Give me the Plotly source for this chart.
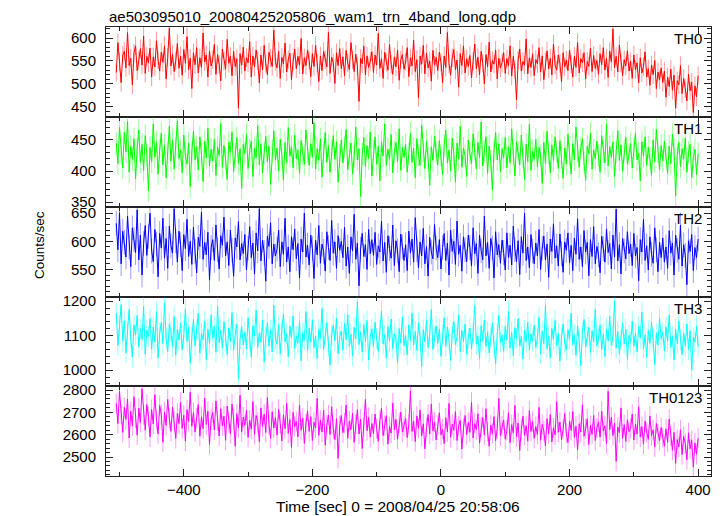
import plotly.graph_objects as go
from plotly.subplots import make_subplots

T_START = -505
T_STEP = 2.5

th0 = [525, 590, 548, 503, 562, 571, 535, 612, 540, 556, 498, 567, 583, 529, 551, 577, 541, 604, 523, 560,
       546, 578, 515, 559, 537, 594, 552, 528, 569, 547, 583, 511, 558, 622, 539, 565, 527, 550, 588, 534,
       561, 519, 575, 545, 603, 531, 556, 490, 568, 542, 579, 524, 557, 536, 611, 548, 563, 515, 572, 539,
       553, 586, 521, 564, 543, 507, 576, 549, 532, 597, 545, 560, 518, 571, 538, 555, 447, 566, 541, 580,
       528, 557, 546, 592, 515, 561, 537, 574, 550, 502, 563, 531, 584, 544, 520, 569, 556, 538, 617, 549,
       535, 571, 512, 558, 544, 589, 526, 553, 567, 509, 548, 576, 533, 560, 541, 599, 522, 557, 540, 574,
       551, 516, 566, 538, 584, 545, 505, 561, 529, 571, 553, 537, 612, 523, 558, 546, 501, 568, 540, 577,
       533, 559, 518, 573, 546, 531, 590, 552, 527, 565, 539, 462, 556, 544, 582, 520, 561, 536, 549, 570,
       525, 563, 541, 610, 534, 555, 512, 569, 547, 530, 586, 543, 521, 559, 537, 574, 508, 552, 564, 532,
       548, 579, 516, 557, 539, 595, 527, 553, 470, 561, 543, 584, 522, 567, 535, 550, 506, 573, 541, 558,
       529, 569, 547, 503, 561, 536, 612, 544, 519, 557, 575, 531, 552, 493, 566, 540, 583, 524, 555, 538,
       562, 513, 549, 587, 533, 558, 520, 571, 545, 500, 564, 537, 591, 526, 551, 543, 574, 511, 556, 535,
       547, 568, 523, 555, 539, 583, 517, 560, 531, 465, 552, 576, 528, 549, 541, 598, 522, 557, 536, 566,
       518, 553, 544, 579, 526, 561, 509, 548, 572, 533, 556, 520, 587, 541, 530, 563, 545, 505, 568, 537,
       552, 529, 574, 543, 515, 560, 536, 590, 524, 555, 546, 568, 511, 549, 538, 578, 527, 562, 534, 551,
       521, 566, 542, 579, 530, 556, 514, 571, 548, 620, 535, 560, 526, 585, 545, 518, 553, 539, 572, 528,
       549, 512, 563, 531, 546, 502, 557, 524, 538, 570, 515, 533, 497, 541, 520, 551, 490, 526, 509, 535,
       503, 528, 471, 515, 494, 532, 486, 519, 447, 507, 498, 540, 479, 512, 490, 463, 521, 485, 504, 438,
       496, 472, 518]

th1 = [445, 412, 470, 428, 405, 462, 431, 480, 398, 440, 419, 452, 387, 436, 466, 414, 443, 401, 457, 426,
       368, 438, 415, 476, 422, 447, 395, 433, 461, 410, 442, 389, 429, 472, 416, 450, 403, 437, 481, 420,
       434, 397, 458, 423, 411, 445, 375, 430, 464, 418, 439, 402, 455, 427, 383, 448, 421, 469, 408, 435,
       416, 451, 393, 438, 425, 477, 406, 441, 419, 386, 446, 430, 463, 399, 427, 454, 412, 436, 372, 443,
       428, 459, 404, 433, 448, 391, 437, 421, 473, 410, 444, 397, 429, 456, 415, 440, 378, 432, 465, 418,
       437, 400, 451, 426, 385, 446, 413, 470, 424, 439, 405, 458, 420, 434, 396, 449, 427, 411, 466, 431,
       409, 444, 422, 478, 403, 436, 417, 452, 390, 429, 462, 414, 441, 398, 433, 457, 419, 447, 382, 425,
       450, 413, 438, 467, 402, 430, 445, 395, 423, 471, 418, 436, 359, 427, 454, 407, 441, 420, 463, 392,
       432, 455, 411, 440, 384, 447, 424, 476, 409, 435, 419, 459, 397, 431, 446, 415, 468, 401, 438, 422,
       443, 398, 428, 461, 414, 437, 389, 452, 426, 409, 474, 432, 404, 448, 420, 377, 439, 417, 456, 430,
       410, 449, 425, 394, 441, 466, 413, 434, 400, 453, 427, 382, 445, 419, 472, 406, 437, 424, 391, 450,
       428, 412, 460, 435, 403, 446, 421, 479, 408, 431, 455, 396, 440, 416, 369, 433, 462, 418, 444, 399,
       436, 421, 454, 405, 439, 413, 468, 427, 392, 447, 430, 410, 458, 423, 386, 443, 415, 475, 401, 432,
       419, 451, 407, 438, 425, 380, 446, 412, 464, 429, 397, 442, 417, 455, 431, 404, 449, 422, 388, 437,
       411, 459, 426, 395, 444, 418, 471, 432, 406, 437, 452, 414, 385, 440, 428, 461, 403, 434, 420, 448,
       425, 398, 457, 431, 413, 476, 408, 439, 422, 447, 391, 430, 465, 417, 442, 400, 433, 454, 411, 427,
       444, 405, 436, 461, 418, 429, 384, 447, 424, 455, 409, 438, 420, 393, 450, 415, 467, 430, 402, 441,
       416, 448, 427, 396, 440, 412, 459, 433, 360, 425, 446, 407, 436, 419, 453, 398, 430, 443, 389, 422,
       435, 394, 428]

th2 = [632, 585, 651, 560, 618, 598, 572, 645, 590, 555, 624, 603, 580, 656, 567, 611, 540, 596, 628, 575,
       609, 650, 583, 564, 621, 595, 537, 614, 588, 641, 570, 605, 552, 627, 592, 579, 658, 601, 563, 618,
       594, 548, 612, 587, 639, 573, 600, 559, 625, 582, 544, 607, 591, 652, 568, 598, 576, 616, 531, 589,
       603, 566, 629, 585, 551, 610, 593, 643, 574, 599, 557, 620, 584, 538, 606, 590, 635, 567, 596, 578,
       612, 549, 588, 626, 571, 597, 542, 615, 583, 658, 565, 602, 580, 529, 609, 591, 633, 560, 595, 574,
       586, 620, 555, 599, 577, 641, 563, 590, 546, 608, 585, 622, 569, 596, 535, 604, 581, 650, 572, 593,
       558, 611, 587, 534, 602, 576, 628, 561, 595, 582, 547, 617, 589, 566, 637, 579, 599, 552, 610, 584,
       600, 571, 625, 556, 590, 543, 608, 583, 648, 568, 597, 521, 586, 614, 573, 594, 550, 621, 578, 603,
       575, 616, 559, 592, 581, 636, 565, 598, 545, 610, 587, 570, 629, 557, 601, 583, 546, 613, 590, 566,
       594, 548, 618, 579, 604, 563, 642, 585, 553, 599, 574, 623, 560, 591, 538, 607, 581, 569, 630, 588,
       571, 603, 551, 589, 614, 566, 597, 540, 620, 582, 600, 559, 636, 577, 593, 547, 608, 585, 564, 611,
       589, 556, 624, 578, 596, 543, 611, 583, 567, 645, 574, 598, 552, 605, 588, 535, 617, 576, 594, 561,
       602, 580, 549, 615, 571, 593, 558, 627, 585, 564, 601, 541, 608, 579, 650, 566, 590, 553, 612, 583,
       560, 597, 574, 621, 550, 588, 609, 567, 595, 536, 604, 582, 631, 570, 592, 556, 613, 578, 545, 599,
       584, 615, 562, 593, 548, 606, 577, 640, 568, 590, 555, 619, 581, 598, 539, 603, 573, 626, 560, 591,
       576, 544, 609, 587, 563, 622, 580, 596, 551, 611, 572, 657, 565, 594, 542, 605, 583, 569, 617, 578,
       595, 557, 614, 574, 589, 530, 603, 581, 639, 566, 592, 549, 608, 577, 561, 624, 585, 546, 598, 571,
       606, 563, 590, 552, 619, 579, 597, 540, 611, 584, 568, 629, 556, 594, 575, 523, 601, 582, 612, 548,
       589, 571, 604]

th3 = [1165, 1072, 1128, 1190, 1085, 1143, 1050, 1112, 1176, 1094, 1038, 1131, 1102, 1158, 1067, 1120, 1089, 1184, 1046, 1115,
       1098, 1149, 1061, 1125, 1081, 1170, 1035, 1106, 1138, 1077, 1195, 1092, 1054, 1133, 1110, 1068, 1155, 1043, 1118, 1087,
       1136, 1059, 1101, 1178, 1083, 1124, 1020, 1095, 1147, 1071, 1113, 1164, 1049, 1107, 1088, 1142, 1030, 1119, 1076, 1160,
       1093, 1128, 1052, 1185, 1079, 1116, 1064, 1140, 1097, 1045, 1122, 1084, 1167, 1058, 1103, 1134, 975, 1090, 1126, 1073,
       1111, 1062, 1152, 1086, 1037, 1129, 1099, 1174, 1066, 1108, 1081, 1145, 1024, 1096, 1137, 1070, 1117, 1053, 1188, 1091,
       1075, 1132, 1048, 1114, 1163, 1082, 1105, 1039, 1127, 1094, 1157, 1063, 1100, 1078, 1141, 1027, 1109, 1087, 1170, 1056,
       1121, 1080, 1146, 1065, 1099, 1033, 1118, 1092, 1179, 1060, 1106, 1138, 1071, 1015, 1102, 1130, 1085, 1150, 1047, 1097,
       1113, 1058, 1135, 1088, 1161, 1069, 1104, 1041, 1124, 1090, 1198, 1074, 1110, 1052, 1132, 1083, 1144, 1029, 1098, 1119,
       1067, 1139, 1091, 1055, 1115, 1172, 1076, 1103, 1036, 1126, 1084, 1148, 1062, 1107, 1093, 1021, 1120, 1079, 1154, 1071,
       1100, 1044, 1131, 1086, 1166, 1073, 1112, 1057, 1137, 1095, 1010, 1117, 1082, 1143, 1065, 1104, 1176, 1060, 1096, 1128,
       1078, 1119, 1040, 1102, 1152, 1069, 1125, 1089, 1028, 1108, 1141, 1074, 1097, 1160, 1054, 1115, 1083, 1133, 1046, 1093,
       1122, 1061, 1106, 1187, 1075, 1099, 1034, 1129, 1085, 1145, 1068, 1111, 1050, 1094, 1136, 1072, 1018, 1104, 1158, 1080,
       1101, 1055, 1127, 1087, 1171, 1064, 1110, 1042, 1123, 1091, 1149, 1070, 1098, 1032, 1116, 1081, 1139, 1059, 1105, 1084,
       1130, 1066, 1092, 1153, 1048, 1113, 1077, 1187, 1062, 1100, 1035, 1121, 1088, 1144, 1071, 1107, 1026, 1095, 1134, 1079,
       1058, 1117, 1090, 1165, 1074, 1103, 1043, 1128, 1086, 1013, 1109, 1147, 1067, 1097, 1124, 1052, 1114, 1082, 1176, 1070,
       1093, 1131, 1060, 1105, 1039, 1120, 1085, 1156, 1072, 1099, 1201, 1064, 1112, 1047, 1090, 1137, 1076, 1118, 1031, 1101,
       1080, 1142, 1069, 1108, 1053, 1126, 1094, 1168, 1063, 1102, 1037, 1115, 1078, 1139, 1087, 1016, 1106, 1073, 1150, 1091,
       1110, 1056, 1125, 1084, 1160, 1066, 1098, 1029, 1119, 1077, 1143, 1089, 1045, 1107, 1071, 1134, 1060, 1114, 1000, 1095,
       1081, 1127, 1068]

th0123 = [2740, 2650, 2795, 2690, 2610, 2722, 2668, 2760, 2585, 2705, 2640, 2770, 2675, 2598, 2718, 2655, 2806, 2690, 2620, 2735,
          2682, 2590, 2713, 2648, 2779, 2665, 2604, 2730, 2690, 2566, 2701, 2642, 2758, 2673, 2615, 2724, 2660, 2583, 2695, 2650,
          2745, 2628, 2687, 2571, 2712, 2659, 2790, 2638, 2699, 2612, 2674, 2735, 2593, 2680, 2627, 2764, 2646, 2705, 2557, 2668,
          2699, 2621, 2751, 2662, 2594, 2716, 2640, 2683, 2575, 2728, 2654, 2605, 2737, 2670, 2548, 2694, 2631, 2776, 2613, 2679,
          2642, 2710, 2588, 2664, 2625, 2748, 2601, 2686, 2655, 2569, 2720, 2637, 2692, 2610, 2767, 2645, 2583, 2703, 2630, 2676,
          2598, 2714, 2651, 2572, 2689, 2627, 2741, 2606, 2668, 2543, 2700, 2636, 2659, 2590, 2733, 2620, 2675, 2561, 2648, 2707,
          2615, 2681, 2574, 2656, 2630, 2762, 2597, 2665, 2612, 2709, 2553, 2643, 2688, 2601, 2725, 2626, 2578, 2672, 2494, 2640,
          2686, 2609, 2652, 2733, 2584, 2661, 2622, 2697, 2566, 2645, 2712, 2603, 2670, 2538, 2634, 2758, 2618, 2677, 2589, 2650,
          2605, 2692, 2627, 2570, 2663, 2718, 2596, 2641, 2685, 2558, 2636, 2607, 2742, 2621, 2669, 2580, 2654, 2701, 2612, 2638,
          2673, 2587, 2646, 2795, 2615, 2660, 2569, 2684, 2628, 2711, 2594, 2649, 2537, 2632, 2690, 2603, 2738, 2617, 2657, 2576,
          2642, 2698, 2599, 2625, 2560, 2676, 2613, 2740, 2589, 2647, 2619, 2703, 2574, 2639, 2664, 2536, 2629, 2686, 2600, 2655,
          2611, 2745, 2585, 2650, 2622, 2694, 2562, 2634, 2677, 2598, 2716, 2615, 2548, 2643, 2605, 2681, 2573, 2627, 2762, 2595,
          2638, 2666, 2580, 2620, 2699, 2564, 2645, 2608, 2731, 2590, 2652, 2529, 2624, 2683, 2597, 2640, 2571, 2708, 2614, 2659,
          2583, 2636, 2601, 2722, 2575, 2646, 2617, 2550, 2672, 2604, 2690, 2568, 2631, 2599, 2748, 2611, 2656, 2578, 2625, 2695,
          2606, 2565, 2660, 2619, 2704, 2587, 2638, 2532, 2649, 2612, 2734, 2593, 2627, 2671, 2556, 2641, 2602, 2686, 2574, 2630,
          2658, 2589, 2705, 2616, 2640, 2561, 2794, 2622, 2678, 2596, 2652, 2481, 2634, 2609, 2720, 2584, 2645, 2570, 2667, 2613,
          2628, 2692, 2576, 2647, 2603, 2725, 2590, 2636, 2558, 2661, 2610, 2579, 2684, 2595, 2622, 2545, 2650, 2604, 2573, 2632,
          2587, 2548, 2626, 2566, 2669, 2595, 2530, 2610, 2472, 2578, 2545, 2622, 2511, 2592, 2560, 2488, 2608, 2537, 2575, 2455,
          2563, 2512, 2584]

series = [th0, th1, th2, th3, th0123]
names = ["TH0", "TH1", "TH2", "TH3", "TH0123"]
errors = [20, 18, 22, 30, 45]
colors = ["#ff0000", "#00ff00", "#0000ff", "#00ffff", "#ff00ff"]
err_colors = ["rgba(255,0,0,0.4)", "rgba(0,255,0,0.4)", "rgba(0,0,255,0.4)",
              "rgba(0,255,255,0.4)", "rgba(255,0,255,0.4)"]
y_ranges = [[428, 624], [342, 487], [501, 661], [954, 1212], [2415, 2818]]
y_dticks = [50, 50, 50, 100, 100]
x_range = [-521, 420]

FONT = "Liberation Sans, Arial, Helvetica, sans-serif"
AXC = "#222222"

fig = make_subplots(rows=5, cols=1, shared_xaxes=True, vertical_spacing=0)

t = [T_START + T_STEP * i for i in range(len(th0))]

for i, (vals, err) in enumerate(zip(series, errors)):
    fig.add_trace(go.Scatter(
        x=t, y=vals, mode="lines",
        line=dict(color=colors[i], width=1),
        error_y=dict(type="constant", value=err, color=err_colors[i],
                     thickness=1, width=0),
        showlegend=False, hoverinfo="skip"), row=i + 1, col=1)

H = 449.0
bounds = [0, 90, 179, 269, 359, 449]
for i in range(5):
    r = i + 1
    lo = bounds[4 - i] / H
    hi = bounds[5 - i] / H
    fig.update_yaxes(row=r, col=1, domain=[lo, hi], range=y_ranges[i],
                     dtick=y_dticks[i], ticks="inside", ticklen=7,
                     tickcolor=AXC, showline=True, linecolor=AXC,
                     linewidth=1, mirror="allticks", showgrid=False,
                     zeroline=False, automargin=False, ticklabelstandoff=6,
                     minor=dict(ticks="inside", ticklen=4, tickcolor=AXC,
                                dtick=y_dticks[i] / 5, showgrid=False),
                     tickfont=dict(family=FONT, size=15, color="black"))
    fig.update_xaxes(row=r, col=1, range=x_range, dtick=200, tick0=0,
                     ticks="inside", ticklen=7, tickcolor=AXC,
                     showline=True, linecolor=AXC, linewidth=1,
                     mirror="allticks", showgrid=False, zeroline=False,
                     automargin=False,
                     minor=dict(ticks="inside", ticklen=4, tickcolor=AXC,
                                dtick=100, tick0=0, showgrid=False),
                     showticklabels=(r == 5),
                     tickfont=dict(family=FONT, size=15, color="black"))
    fig.add_annotation(xref="x domain", yref="y domain" if r == 1 else f"y{r} domain",
                       x=0.988, y=0.985, xanchor="right", yanchor="top",
                       text=names[i], showarrow=False,
                       font=dict(family=FONT, size=15, color="black"))

fig.add_annotation(xref="paper", yref="paper", x=0.482, y=-0.069,
                   text="Time [sec] 0 = 2008/04/25 20:58:06", showarrow=False,
                   xanchor="center", yanchor="middle",
                   font=dict(family=FONT, size=15.5, color="black"))
fig.add_annotation(xref="paper", yref="paper", x=-0.111, y=0.514, textangle=-90,
                   text="Counts/sec", showarrow=False, xanchor="center", yanchor="middle",
                   font=dict(family=FONT, size=13.5, color="black"))
fig.add_annotation(xref="paper", yref="paper", x=0.003, y=1.0, yanchor="bottom",
                   xanchor="left", yshift=1, borderpad=0,
                   text="ae503095010_20080425205806_wam1_trn_4band_long.qdp",
                   showarrow=False, font=dict(family=FONT, size=15, color="black"))

# the page body adds an 8 px offset, so the figure is 8 px smaller and margins shifted
fig.update_layout(width=716, height=508, margin=dict(l=98, r=13, t=19, b=40),
                  plot_bgcolor="white", paper_bgcolor="white",
                  font=dict(family=FONT, color="black"))

fig.write_html("out.html")
